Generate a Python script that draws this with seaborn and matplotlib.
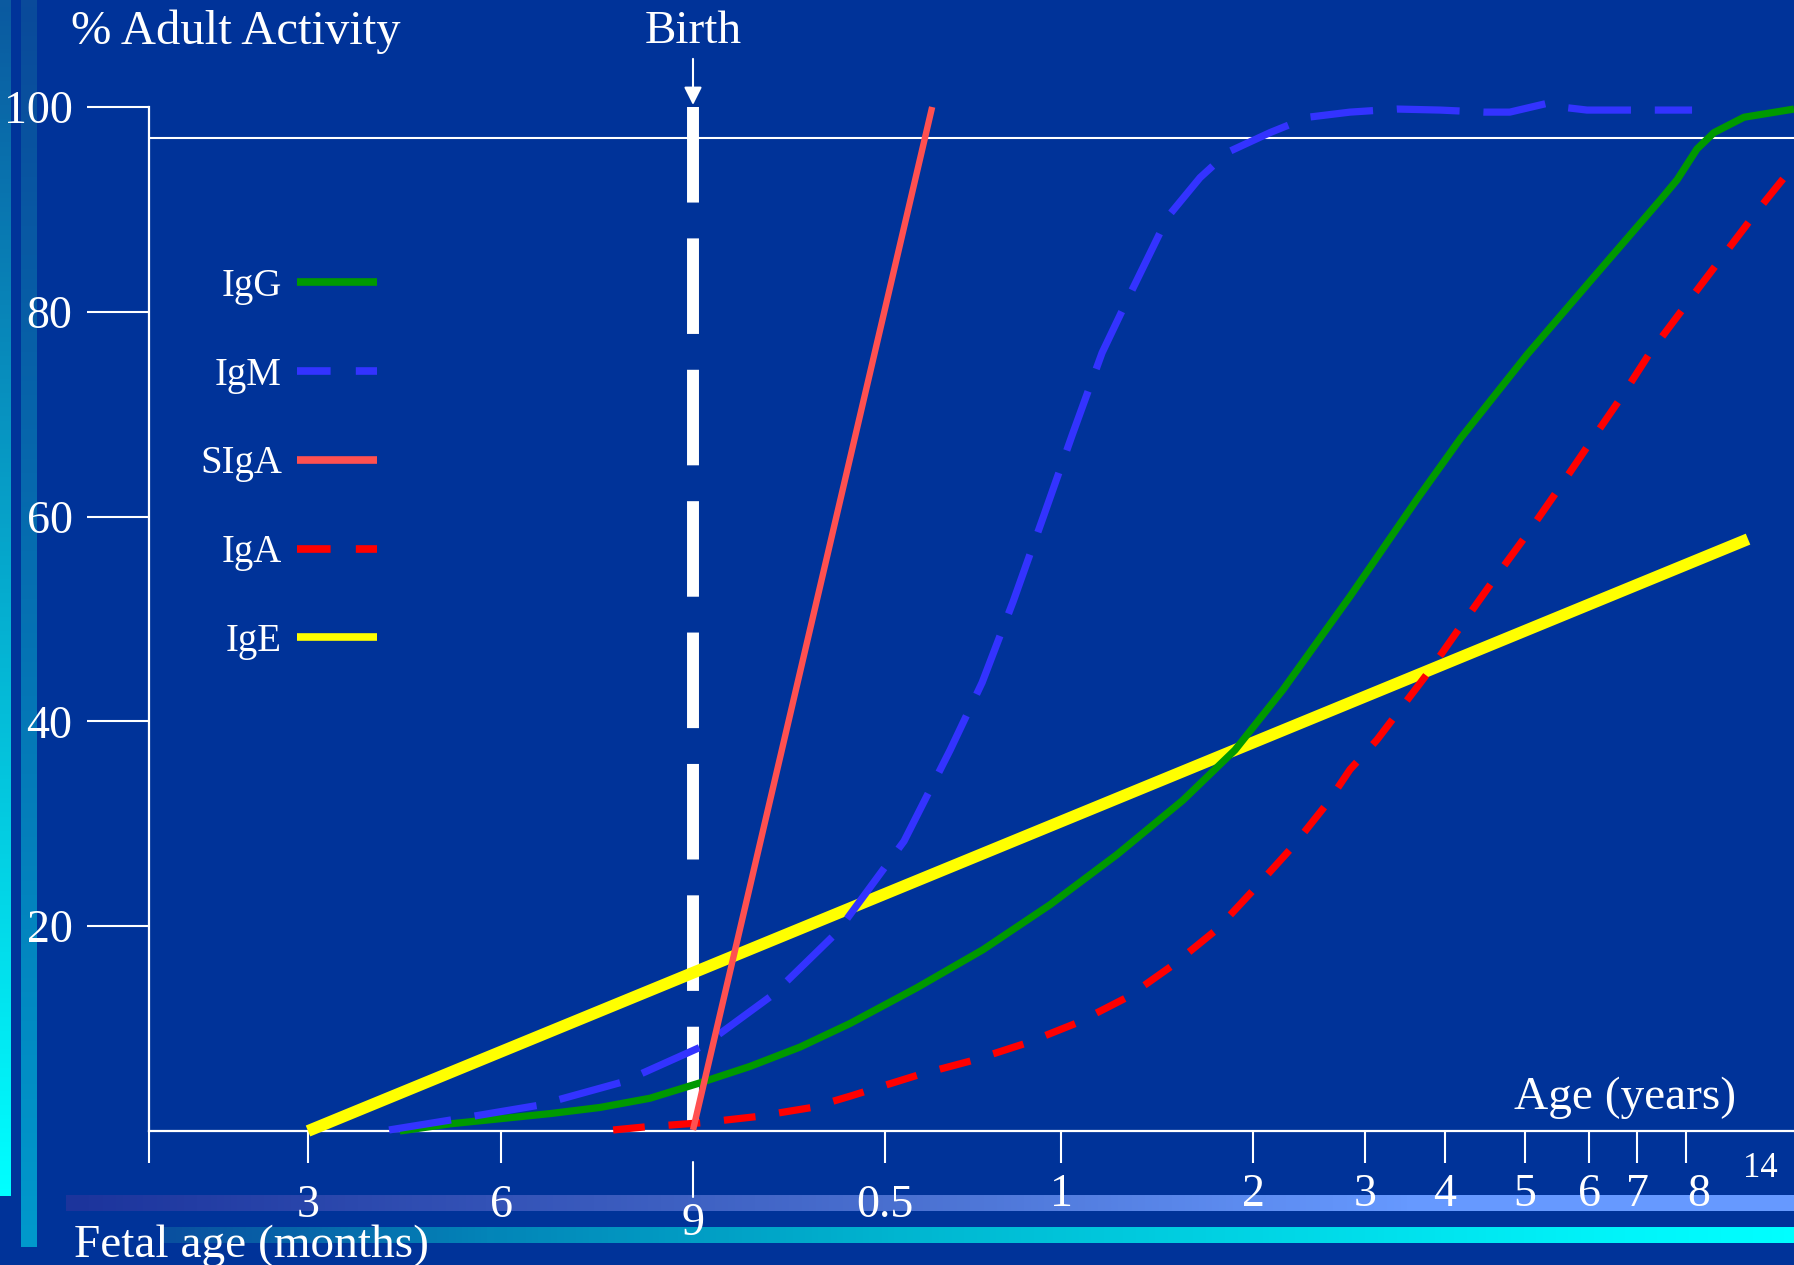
import numpy as np
import pandas as pd
import seaborn as sns
import matplotlib
matplotlib.use("Agg")
import matplotlib.pyplot as plt
from matplotlib.lines import Line2D
from matplotlib.colors import LinearSegmentedColormap
from matplotlib import transforms

# ages in years from birth (fetal months -> negative), values in % of adult activity
igg_age = [-0.381, -0.316, -0.251, -0.186, -0.121, -0.056, 0.018, 0.148, 0.279, 0.409, 0.591, 0.778,
           0.969, 1.292, 1.635, 1.906, 2.268, 2.866, 3.65, 4.20, 5.03, 6.10, 7.49, 7.82, 8.89, 10.27,
           12.70, 15.5]
igg_val = [0.0, 0.7, 1.2, 1.7, 2.3, 3.2, 4.7, 6.3, 8.2, 10.5, 14.0, 17.7, 22.1, 27.0, 32.3, 37.2,
           43.1, 52.2, 61.7, 67.7, 75.8, 83.4, 91.0, 92.9, 95.9, 97.5, 99.0, 99.8]

igm_age = [-0.395, -0.313, -0.202, -0.091, 0.026, 0.208, 0.375, 0.554, 0.685, 0.776, 0.864, 0.949,
           1.057, 1.214, 1.359, 1.557, 1.724, 1.870, 2.152, 2.491, 2.866, 3.40, 3.94, 4.49, 4.81,
           5.375, 5.56, 5.97, 8.49]
igm_val = [0.1, 1.1, 2.5, 4.8, 8.3, 13.3, 19.4, 28.3, 37.2, 43.8, 51.7, 59.9, 67.9, 76.0, 81.7,
           89.3, 93.1, 95.6, 97.5, 99.0, 99.5, 99.8, 99.7, 99.5, 99.5, 100.4, 100.0, 99.7, 99.7]

siga_age = [0.0, 0.634]
siga_val = [0.1, 100.0]

iga_age = [-0.104, -0.0625, 0.021, 0.164, 0.310, 0.409, 0.597, 0.75, 0.903, 1.089, 1.349, 1.583,
           1.8125, 2.018, 2.357, 2.670, 2.866, 3.15, 3.8125, 4.225, 4.625, 5.047, 5.547, 6.0625,
           6.708, 7.265, 9.135, 13.68, 15.5]
iga_val = [0.1, 0.4, 0.8, 1.4, 2.3, 3.4, 5.5, 6.9, 8.6, 10.6, 13.1, 16.2, 19.7, 23.7, 27.8, 32.1,
           35.3, 38.2, 45.0, 49.6, 54.0, 58.4, 62.9, 67.5, 71.9, 76.0, 82.5, 89.7, 94.3]

ige_age = [-0.5, 13.03]
ige_val = [0.0, 57.8]

series = ["IgG", "IgM", "SIgA", "IgA", "IgE"]

# x axis tick marks / labels
tick_age = [-0.5, -0.25, 0, 0.5, 1, 2, 3, 4, 5, 6, 7, 8, 14]
tick_lab = ["3", "6", "9", "0.5", "1", "2", "3", "4", "5", "6", "7", "8", "14"]
ytick_val = [20, 40, 60, 80, 100]
adult_line = 97

# the slide's stretched time axis (age -> horizontal position)
scale_age = [-0.75, -0.5, -0.25, 0, 0.5, 1, 2, 3, 4, 5, 6, 7, 8, 14, 15.5]
scale_pos = [115, 308, 501, 693, 885, 1061, 1253, 1365, 1445, 1525, 1589, 1637, 1686, 1760, 1794]

def fwd(a):
    return np.interp(a, scale_age, scale_pos)

def inv(p):
    return np.interp(p, scale_pos, scale_age)

BG = "#003399"
styles = {
    "IgE": dict(color="#ffff00", lw=8.5, ls="-"),
    "IgG": dict(color="#009900", lw=5.2, ls="-"),
    "IgM": dict(color="#3333ff", lw=5.2, ls=(0, (8.7, 3.3))),
    "IgA": dict(color="#ff0000", lw=5.2, ls=(0, (4.4, 3.3))),
    "SIgA": dict(color="#ff5050", lw=4.6, ls="-"),
}

df = pd.concat([
    pd.DataFrame({"age": igg_age, "val": igg_val, "Ig": "IgG"}),
    pd.DataFrame({"age": igm_age, "val": igm_val, "Ig": "IgM"}),
    pd.DataFrame({"age": siga_age, "val": siga_val, "Ig": "SIgA"}),
    pd.DataFrame({"age": iga_age, "val": iga_val, "Ig": "IgA"}),
    pd.DataFrame({"age": ige_age, "val": ige_val, "Ig": "IgE"}),
])

sns.set_style("ticks")
plt.rcParams["font.family"] = ["Liberation Serif", "DejaVu Serif"]
plt.rcParams["text.color"] = "white"

W, H = 1794, 1265
fig = plt.figure(figsize=(W / 100, H / 100), dpi=100, facecolor=BG)

# decorative slide bars
bg = fig.add_axes([0, 0, 1, 1], zorder=-1)
bg.set_facecolor(BG)

def band(x0, x1, y0, y1, cols, vertical):
    cmap = LinearSegmentedColormap.from_list("b", cols)
    g = np.linspace(0, 1, 256)
    arr = g[:, None] if vertical else g[None, :]
    bg.imshow(arr, cmap=cmap, extent=(x0, x1, y1, y0), aspect="auto", interpolation="bilinear")

band(0, 11, 0, 1196, ["#0b5aa0", "#00ffff"], True)
band(21, 37, 0, 1247, ["#0a4a9a", "#0099cc"], True)
band(66, W, 1195, 1211, [(0, "#1c349c"), (0.48, "#4a70d0"), (0.78, "#6699ff"), (1, "#6699ff")], False)
band(160, W, 1227, 1243, [(0, "#0a4f9f"), (0.2, "#0385b8"), (0.45, "#00b5d0"), (0.9, "#00f5fa"), (1, "#00ffff")], False)
bg.set_xlim(0, W)
bg.set_ylim(H, 0)
bg.axis("off")

ax = fig.add_axes([149 / W, 1 - 1131 / H, (W - 149) / W, (1131 - 107) / H], zorder=1)
ax.set_facecolor("none")
ax.set_xscale("function", functions=(fwd, inv))

# birth marker
ax.plot([0, 0], [100, 0], color="white", lw=8.6, ls=(0, (8, 3)), zorder=2, solid_capstyle="butt")
ax.axhline(adult_line, color="white", lw=1.5, zorder=1)

for name in ["IgE", "IgG", "IgM", "IgA", "SIgA"]:
    st = styles[name]
    sns.lineplot(data=df[df["Ig"] == name], x="age", y="val", ax=ax, color=st["color"],
                 lw=st["lw"], linestyle=st["ls"], errorbar=None, clip_on=False, zorder=3,
                 solid_capstyle="butt")

xlim = inv(np.array([149, W]))
ax.set_xlabel("")
ax.set_ylabel("")

for s in ["top", "right"]:
    ax.spines[s].set_visible(False)
for s in ["left", "bottom"]:
    ax.spines[s].set_color("white")
    ax.spines[s].set_linewidth(1.6)

ax.set_yticks(ytick_val)
ax.set_yticklabels([str(v) for v in ytick_val])
ax.tick_params(axis="y", length=45, width=1.5, pad=10, labelsize=33, colors="white")

mark_ticks = [xlim[0]] + [a for a in tick_age if a not in (0, 14)]
ax.set_xticks(mark_ticks)
ax.tick_params(axis="x", length=23, width=1.5, colors="white", labelbottom=False)

trans = transforms.blended_transform_factory(ax.transData, ax.transAxes)
ax.plot([0, 0], [-0.0303, -0.0645], transform=trans, clip_on=False, color="white", lw=1.5)

# label drop below the axis line, in points (fetal labels sit lower than the year labels)
for i, (a, lab) in enumerate(zip(tick_age, tick_lab)):
    dx = 0
    if lab == "14":
        d, fs = 27, 25
    elif lab == "9":
        d, fs = 67, 33
    elif i <= 3:
        d, fs = 54, 33
    else:
        d, fs = 46, 33
    if lab == "8":
        dx = 9
    ax.annotate(lab, xy=(a, 0), xycoords=trans, xytext=(dx, -d), textcoords="offset points",
                ha="center", va="center", fontsize=fs, color="white", annotation_clip=False)

ax.set_xlim(xlim[0], xlim[1])
ax.set_ylim(0, 100)

# texts
ax.annotate("", xy=(0, 100.2), xytext=(0, 104.7), xycoords="data", textcoords="data",
            arrowprops=dict(arrowstyle="-|>", color="white", lw=1.5, mutation_scale=27,
                            shrinkA=0, shrinkB=0), annotation_clip=False)
fig.text(693 / W, 1 - 32 / H, "Birth", ha="center", va="center", fontsize=34, color="white")
fig.text(71 / W, 1 - 32 / H, "% Adult Activity", ha="left", va="center", fontsize=35, color="white")
fig.text(74 / W, 1 - 1246 / H, "Fetal age (months)", ha="left", va="center", fontsize=34, color="white")
ax.text((1736 - 149) / (W - 149), (1131 - 1098) / (1131 - 107), "Age (years)", transform=ax.transAxes,
        ha="right", va="center", fontsize=34, color="white")

leg_dash = (0, (4.4, 3.3))
handles = [
    Line2D([], [], color=styles["IgG"]["color"], lw=5.5, solid_capstyle="butt"),
    Line2D([], [], color=styles["IgM"]["color"], lw=5.5, ls=leg_dash),
    Line2D([], [], color=styles["SIgA"]["color"], lw=5.5, solid_capstyle="butt"),
    Line2D([], [], color=styles["IgA"]["color"], lw=5.5, ls=leg_dash),
    Line2D([], [], color=styles["IgE"]["color"], lw=5.5, solid_capstyle="butt"),
]
ax.legend(handles, series, loc="upper left", bbox_to_anchor=(200 / W, 1 - 268 / H),
          bbox_transform=fig.transFigure, frameon=False, markerfirst=False, fontsize=28,
          handlelength=2.05, handletextpad=0.4, labelspacing=1.33, borderpad=0,
          borderaxespad=0, labelcolor="white")

fig.savefig("out.png", dpi=100, facecolor=BG)
